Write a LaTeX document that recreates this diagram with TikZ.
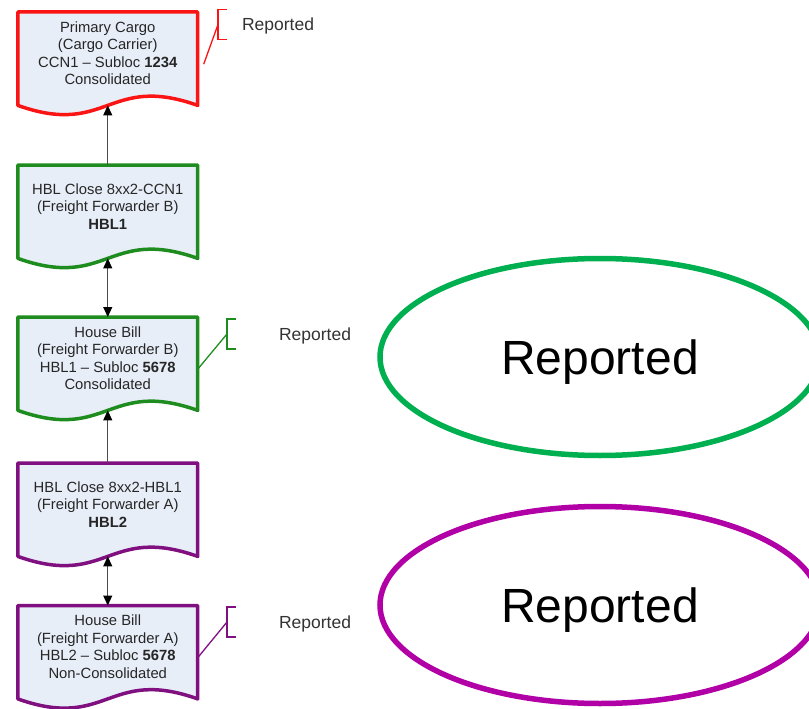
\documentclass[tikz,border=0pt]{standalone}
\usepackage{fontspec}
\setmainfont{Liberation Sans}
\usetikzlibrary{arrows.meta, calc, backgrounds, shapes.geometric}

\definecolor{docfill}{RGB}{232,238,248}
\definecolor{ccnred}{RGB}{250,20,20}
\definecolor{ffbgreen}{RGB}{30,140,30}
\definecolor{ffapurple}{RGB}{128,16,128}
\definecolor{ovalgreen}{RGB}{0,176,80}
\definecolor{ovalpurple}{RGB}{176,0,166}

\begin{document}
\begin{tikzpicture}[x=1pt, y=-1pt,
    doc/.style={anchor=north, minimum width=179.5pt, minimum height=82pt, inner sep=0pt,
        align=center, text=black!85, font=\fontsize{14.8}{17.5}\selectfont},
    link/.style={draw=black!70, line width=1.1pt},
    fwd/.style={-{Triangle[length=10pt,width=9pt,color=black]}},
    both/.style={{Triangle[length=10pt,width=9pt,color=black]}-{Triangle[length=10pt,width=9pt,color=black]}},
    tag/.style={line width=1.3pt},
    note/.style={text=black!80, font=\fontsize{17.5}{20}\selectfont},
    oval/.style={ellipse, line width=5.5pt, minimum width=440pt, minimum height=197pt,
        inner sep=0pt, text depth=0pt, font=\fontsize{48}{56}\selectfont}]
    \path[use as bounding box, clip] (0,0) rectangle (809,709);

    % document chain
    \node [doc] (ccn)  at (107.75,12)    {Primary Cargo\\(Cargo Carrier)\\CCN1 -- Subloc \textbf{1234}\\Consolidated};
    \node [doc] (hbc1) at (107.75,165)   {HBL Close 8xx2-CCN1\\(Freight Forwarder B)\\\textbf{HBL1}};
    \node [doc] (hb1)  at (107.75,317)   {House Bill\\(Freight Forwarder B)\\HBL1 -- Subloc \textbf{5678}\\Consolidated};
    \node [doc] (hbc2) at (107.75,463)   {HBL Close 8xx2-HBL1\\(Freight Forwarder A)\\\textbf{HBL2}};
    \node [doc] (hb2)  at (107.75,605.5) {House Bill\\(Freight Forwarder A)\\HBL2 -- Subloc \textbf{5678}\\Non-Consolidated};

    \begin{scope}[on background layer]
        \foreach \n/\c in {ccn/ccnred, hbc1/ffbgreen, hb1/ffbgreen, hbc2/ffapurple, hb2/ffapurple}
            \draw [draw=\c, fill=docfill, line width=3.5pt, line join=round]
                (\n.north west) -- (\n.north east) -- ($(\n.south east)+(0,11)$)
                .. controls ($(\n.south)+(0,-21)$) and ($(\n.south)+(0,43)$) .. ($(\n.south west)+(0,11)$) -- cycle;
    \end{scope}
    \foreach \n in {ccn, hbc1, hb1, hbc2}
        \coordinate (\n-w) at ($(\n.south)+(0,11)$);

    \draw [link, fwd]  (hbc1.north) -- (ccn-w);
    \draw [link, both] (hbc1-w) -- (hb1.north);
    \draw [link, fwd]  (hbc2.north) -- (hb1-w);
    \draw [link, both] (hbc2-w) -- (hb2.north);

    % reported notes
    \node [note] (rep-ccn) at (278,26)    {Reported};
    \node [note] (rep-hb1) at (315,335.5) {Reported};
    \node [note] (rep-hb2) at (315,623.5) {Reported};
    \coordinate (brk-ccn) at (218,24.5);
    \coordinate (brk-hb1) at (227,334);
    \coordinate (brk-hb2) at (227,622);
    \foreach \n/\c/\dx in {ccn/ccnred/6, hb1/ffbgreen/0, hb2/ffapurple/0} {
        \draw [tag, draw=\c] ($(brk-\n)+(9,-15)$) -- ++(-9,0) -- ++(0,30) -- ++(9,0);
        \draw [tag, draw=\c] (brk-\n) -- ($(\n.east)+(\dx,11)$);
    }

    \node [oval, draw=ovalgreen]  (oval-hb1) at (600,357) {Reported};
    \node [oval, draw=ovalpurple] (oval-hb2) at (600,605) {Reported};
\end{tikzpicture}
\end{document}
